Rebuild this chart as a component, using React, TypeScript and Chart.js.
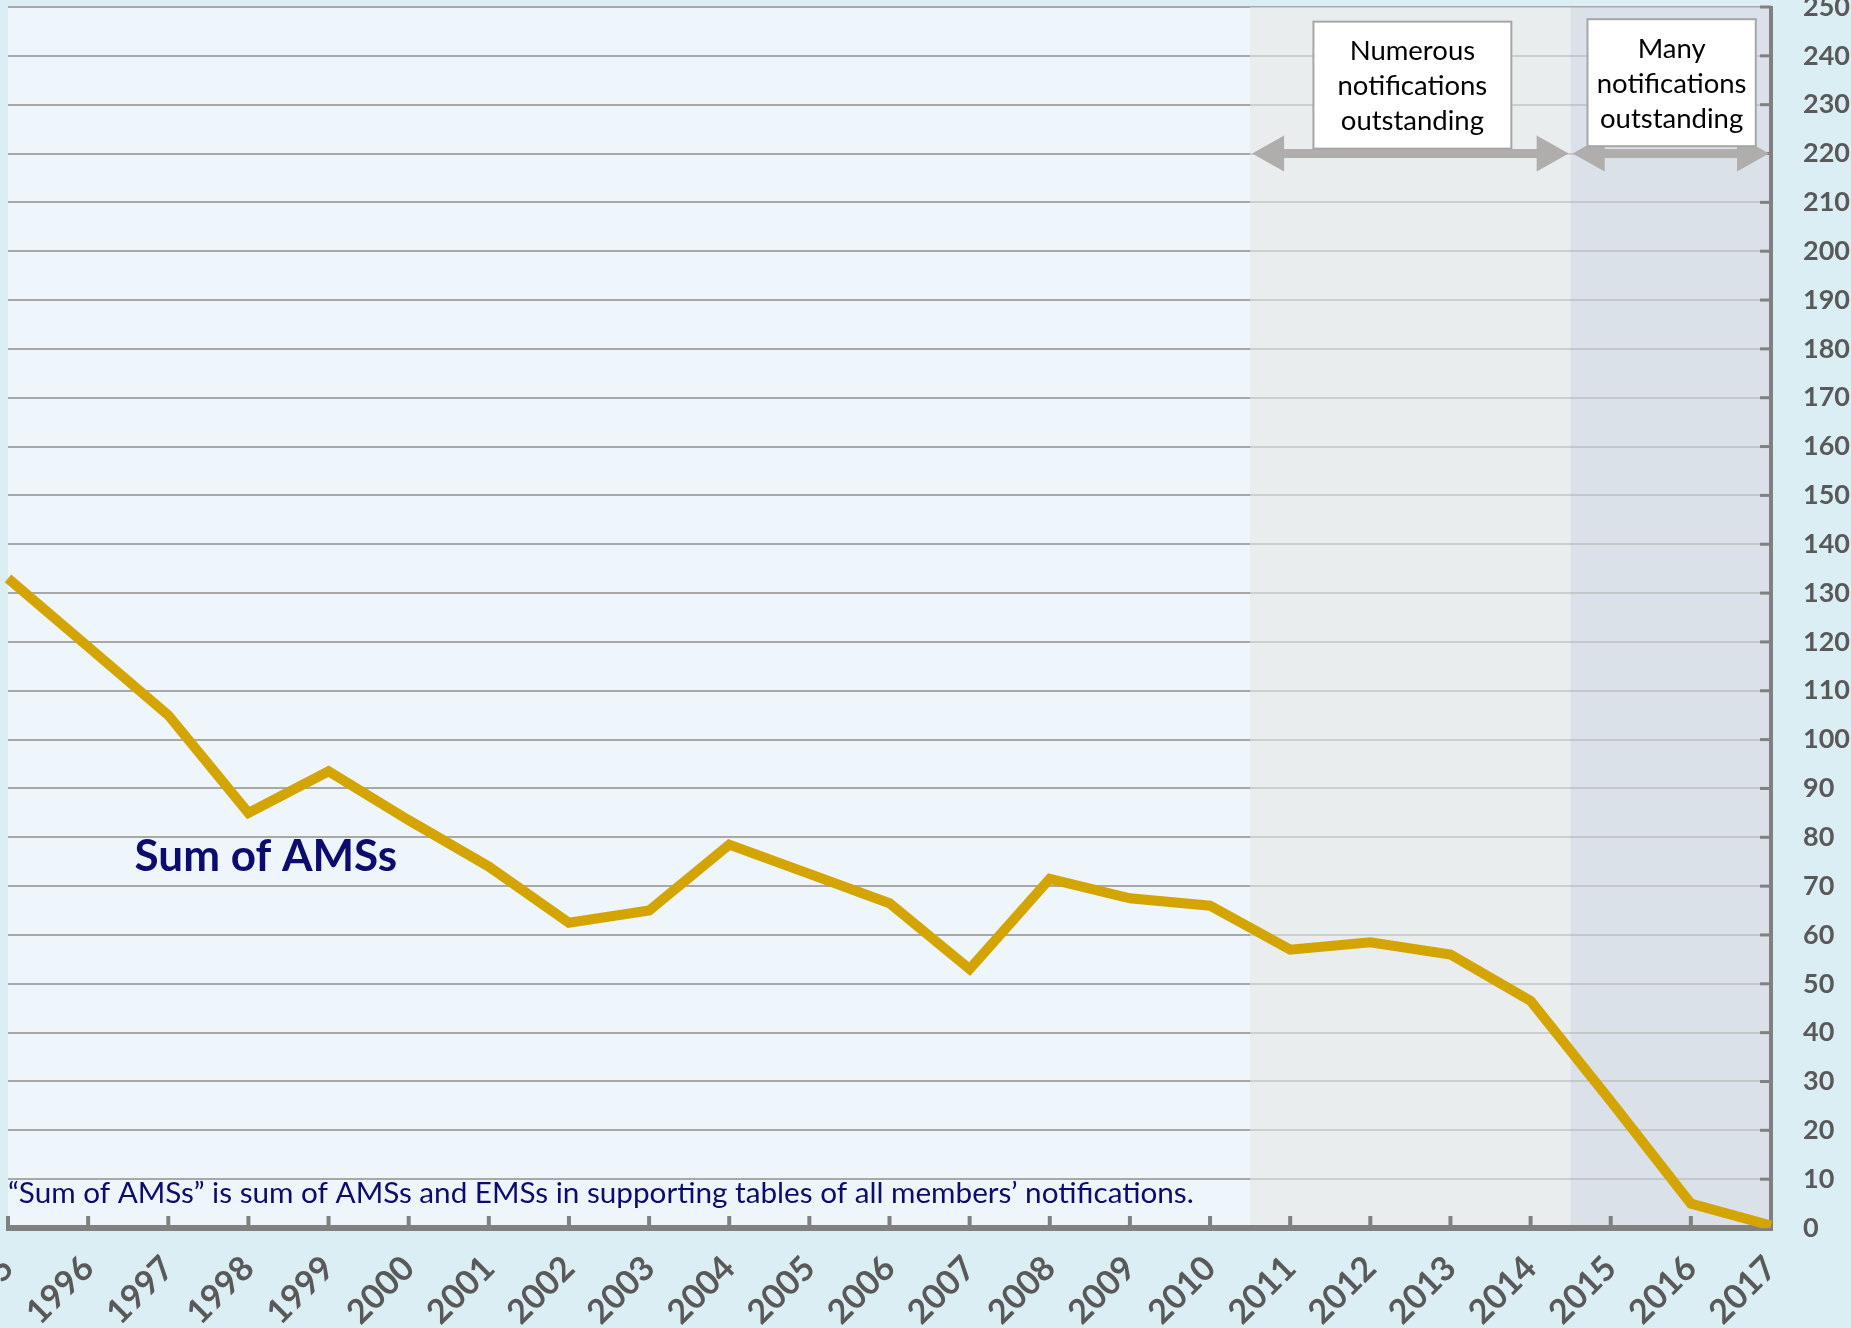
import React, { useEffect, useRef } from 'react';
import { Chart, registerables } from 'chart.js';

Chart.register(...registerables);

// ---- data ----
const years = ['1995', '1996', '1997', '1998', '1999', '2000', '2001', '2002', '2003', '2004', '2005', '2006',
  '2007', '2008', '2009', '2010', '2011', '2012', '2013', '2014', '2015', '2016', '2017'];
const sumOfAMSs = [133, 119, 105, 85, 93.5, 83.5, 74, 62.5, 65, 78.5, 72.5, 66.5,
  53, 71.5, 67.5, 66, 57, 58.5, 56, 46.5, 26, 5, 0.5];
const yMin = 0;
const yMax = 250;
const yStep = 10;

// shaded periods (in year units)
const shadeStarts = [2010.5, 2014.5];
const shadeEnds = [2014.5, 2017];
const boxLabels = [
  ['Numerous', 'notifications', 'outstanding'],
  ['Many', 'notifications', 'outstanding'],
];
const boxX0 = [2011.29, 2014.71];
const boxX1 = [2013.76, 2016.81];
const boxY0 = [221, 221.5];
const boxY1 = [247, 247.5];
const arrowValue = 220;
const seriesLabel = 'Sum of AMSs';
const footnote = '\u201CSum of AMSs\u201D is sum of AMSs and EMSs in supporting tables of all members\u2019 notifications.';

const PAGE_BG = '#dbeef4';
const PLOT_BG = '#eef6fc';
const SHADES = ['#e9edee', '#dae1e8'];
const SHADE_OVERLAY = ['rgba(233,237,238,0.55)', 'rgba(218,225,232,0.55)'];
const AXIS = '#808080';
const LABEL = '#595959';
const NAVY = '#0c0c6e';
const LINE = '#d4a500';
const ARROW = '#b0adad';

const FONT = 'Lato, "Open Sans", sans-serif';

function idx(year: number) {
  return year - Number(years[0]);
}

function drawDoubleArrow(ctx: CanvasRenderingContext2D, x0: number, x1: number, y: number) {
  const headL = 32;
  const headW = 18;
  const shaft = 9;
  ctx.fillStyle = ARROW;
  ctx.fillRect(x0 + headL - 1, y - shaft / 2, x1 - x0 - 2 * headL + 2, shaft);
  ctx.beginPath();
  ctx.moveTo(x0, y);
  ctx.lineTo(x0 + headL, y - headW);
  ctx.lineTo(x0 + headL, y + headW);
  ctx.closePath();
  ctx.fill();
  ctx.beginPath();
  ctx.moveTo(x1, y);
  ctx.lineTo(x1 - headL, y - headW);
  ctx.lineTo(x1 - headL, y + headW);
  ctx.closePath();
  ctx.fill();
}

const decor = {
  id: 'decor',
  beforeDraw(chart: any) {
    const { ctx, chartArea: a, scales } = chart;
    const x = scales.x;
    ctx.save();
    ctx.fillStyle = PAGE_BG;
    ctx.fillRect(0, 0, chart.width, chart.height);
    ctx.fillStyle = PLOT_BG;
    ctx.fillRect(a.left, a.top, a.right - a.left, a.bottom - a.top);
    for (let i = 0; i < shadeStarts.length; i++) {
      const p0 = x.getPixelForValue(idx(shadeStarts[i]));
      const p1 = x.getPixelForValue(idx(shadeEnds[i]));
      ctx.fillStyle = SHADES[i];
      ctx.fillRect(p0, a.top, p1 - p0, a.bottom - a.top);
    }
    ctx.restore();
  },
  beforeDatasetsDraw(chart: any) {
    const { ctx, chartArea: a, scales } = chart;
    const x = scales.x;
    const y = scales.y;
    ctx.save();
    // lighten gridlines inside shaded periods
    for (let i = 0; i < shadeStarts.length; i++) {
      const p0 = x.getPixelForValue(idx(shadeStarts[i]));
      const p1 = x.getPixelForValue(idx(shadeEnds[i]));
      ctx.fillStyle = SHADE_OVERLAY[i];
      ctx.fillRect(p0, a.top, p1 - p0, a.bottom - a.top);
    }
    // footnote
    ctx.fillStyle = NAVY;
    ctx.textAlign = 'left';
    ctx.textBaseline = 'middle';
    ctx.font = `26px ${FONT}`;
    const target = x.getPixelForValue(14.8) - a.left;
    const w = ctx.measureText(footnote).width;
    const size = 26 * target / w;
    ctx.font = `${size.toFixed(2)}px ${FONT}`;
    ctx.fillText(footnote, a.left, y.getPixelForValue(7));
    // series label
    ctx.font = `bold 44px ${FONT}`;
    ctx.fillText(seriesLabel, x.getPixelForValue(1.58), y.getPixelForValue(76));
    // axes
    ctx.strokeStyle = AXIS;
    ctx.lineCap = 'butt';
    ctx.lineWidth = 4;
    ctx.beginPath();
    ctx.moveTo(a.right, a.top - 1);
    ctx.lineTo(a.right, a.bottom);
    ctx.stroke();
    ctx.lineWidth = 3;
    for (let v = yMin; v <= yMax; v += yStep) {
      const py = y.getPixelForValue(v);
      ctx.beginPath();
      ctx.moveTo(a.right, py);
      ctx.lineTo(a.right - 11, py);
      ctx.stroke();
    }
    ctx.lineWidth = 4;
    for (let i = 0; i < years.length; i++) {
      const px = x.getPixelForValue(i);
      ctx.beginPath();
      ctx.moveTo(px, a.bottom);
      ctx.lineTo(px, a.bottom - 12);
      ctx.stroke();
    }
    ctx.lineWidth = 6;
    ctx.beginPath();
    ctx.moveTo(a.left - 2, a.bottom);
    ctx.lineTo(a.right + 2, a.bottom);
    ctx.stroke();
    ctx.restore();
  },
  afterDatasetsDraw(chart: any) {
    const { ctx, scales } = chart;
    const x = scales.x;
    const y = scales.y;
    ctx.save();
    const ay = y.getPixelForValue(arrowValue);
    for (let i = 0; i < shadeStarts.length; i++) {
      const p0 = x.getPixelForValue(idx(shadeStarts[i]));
      const p1 = x.getPixelForValue(idx(shadeEnds[i]));
      drawDoubleArrow(ctx, p0 + 2, p1 - 2, ay);
    }
    for (let i = 0; i < boxLabels.length; i++) {
      const bx0 = x.getPixelForValue(idx(boxX0[i]));
      const bx1 = x.getPixelForValue(idx(boxX1[i]));
      const by0 = y.getPixelForValue(boxY1[i]);
      const by1 = y.getPixelForValue(boxY0[i]);
      ctx.fillStyle = '#ffffff';
      ctx.fillRect(bx0, by0, bx1 - bx0, by1 - by0);
      ctx.strokeStyle = '#a6a6a6';
      ctx.lineWidth = 2;
      ctx.strokeRect(bx0, by0, bx1 - bx0, by1 - by0);
      ctx.fillStyle = '#000000';
      ctx.font = `27.5px ${FONT}`;
      ctx.textAlign = 'center';
      ctx.textBaseline = 'middle';
      const cx = (bx0 + bx1) / 2;
      const cy = (by0 + by1) / 2 + 1;
      const lh = 35;
      boxLabels[i].forEach((t, k) => {
        ctx.fillText(t, cx, cy + (k - 1) * lh);
      });
    }
    ctx.restore();
  },
};

export default function App() {
  const ref = useRef<HTMLCanvasElement | null>(null);
  useEffect(() => {
    if (!ref.current) return;
    const chart = new Chart(ref.current, {
      type: 'line',
      data: {
        labels: years,
        datasets: [
          {
            label: seriesLabel,
            data: sumOfAMSs,
            borderColor: LINE,
            borderWidth: 10,
            pointRadius: 0,
            tension: 0,
            fill: false,
            borderJoinStyle: 'miter',
            borderCapStyle: 'butt',
          },
        ],
      },
      options: {
        animation: false,
        responsive: true,
        maintainAspectRatio: false,
        layout: { padding: { left: 8, top: 7, right: 0, bottom: 0 } },
        plugins: { legend: { display: false }, tooltip: { enabled: false } },
        scales: {
          x: {
            type: 'category',
            offset: false,
            grid: { display: false },
            border: { display: false },
            ticks: {
              autoSkip: false,
              minRotation: 45,
              maxRotation: 45,
              padding: 12,
              color: LABEL,
              font: { family: FONT, weight: 'bold', size: 34 },
            },
            afterFit(scale: any) {
              scale.height = 100;
              scale.paddingLeft = 0;
              scale.paddingRight = 0;
            },
          },
          y: {
            position: 'right',
            min: yMin,
            max: yMax,
            grid: { color: '#a8a8a8', lineWidth: 2, drawTicks: false },
            border: { display: false },
            ticks: {
              stepSize: yStep,
              padding: 32,
              color: LABEL,
              font: { family: FONT, weight: 'bold', size: 27 },
            },
            afterFit(scale: any) {
              scale.width = 80;
              scale.paddingTop = 0;
              scale.paddingBottom = 0;
            },
          },
        },
      },
      plugins: [decor],
    } as any);
    return () => chart.destroy();
  }, []);
  return (
    <div style={{ position: 'absolute', left: 0, top: 0, width: 1851, height: 1328 }}>
      <canvas ref={ref} />
    </div>
  );
}
